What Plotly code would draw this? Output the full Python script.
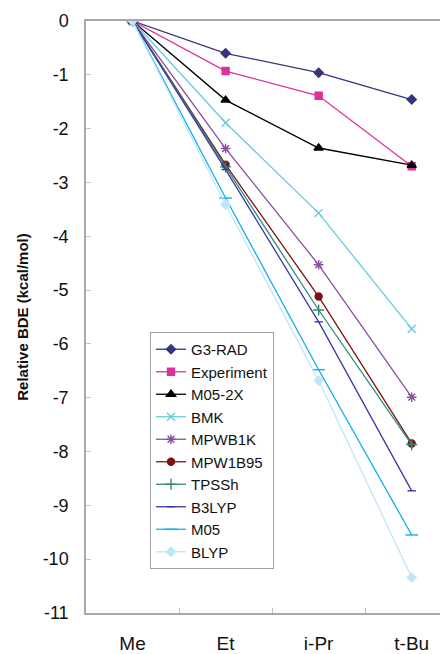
import plotly.graph_objects as go

categories = ["Me", "Et", "i-Pr", "t-Bu"]

series_names = ["G3-RAD", "Experiment", "M05-2X", "BMK", "MPWB1K",
                "MPW1B95", "TPSSh", "B3LYP", "M05", "BLYP"]

g3rad      = [0, -0.60, -0.96, -1.46]
experiment = [0, -0.93, -1.39, -2.70]
m05_2x     = [0, -1.47, -2.36, -2.68]
bmk        = [0, -1.89, -3.57, -5.72]
mpwb1k     = [0, -2.37, -4.53, -6.99]
mpw1b95    = [0, -2.67, -5.12, -7.85]
tpssh      = [0, -2.71, -5.37, -7.87]
b3lyp      = [0, -2.76, -5.59, -8.73]
m05        = [0, -3.29, -6.48, -9.55]
blyp       = [0, -3.41, -6.68, -10.34]

y_tick_values = [0, -1, -2, -3, -4, -5, -6, -7, -8, -9, -10, -11]
y_tick_labels = ["0", "-1", "-2", "-3", "-4", "-5", "-6", "-7", "-8", "-9", "-10", "-11"]

values = [g3rad, experiment, m05_2x, bmk, mpwb1k, mpw1b95, tpssh, b3lyp, m05, blyp]

colors = ["#35357F", "#DD3399", "#000000", "#66CCDD", "#8A4F9E",
          "#7A1414", "#2E8B78", "#3838A8", "#12ADEE", "#BFE6F8"]
symbols = ["diamond", "square", "triangle-up", "x-thin-open", "asterisk-open",
           "circle", "cross-thin-open", "line-ew-open", "line-ew-open", "diamond"]
sizes = [7, 7, 8, 8, 8, 7, 8, 6, 9, 7]

FONT = "Arial, Liberation Sans, sans-serif"

fig = go.Figure()
for name, vals, c, s, sz in zip(series_names, values, colors, symbols, sizes):
    fig.add_trace(go.Scatter(
        x=categories, y=vals, name=name, mode="lines+markers",
        line=dict(color=c, width=1.3),
        marker=dict(symbol=s, size=sz, color=c, line=dict(color=c, width=1.4)),
    ))

# page body has an 8px margin: figure occupies (8..448, 8..654)
OFF = 8
W, H = 448 - OFF, 654 - OFF
left, top, bottom = 86 - OFF, 21 - OFF, 41
plot_w = W - left
plot_h = H - top - bottom

def py(y_px):
    return (H - bottom - (y_px - OFF)) / plot_h

def px(x_px):
    return (x_px - OFF - left) / plot_w

fig.update_layout(
    width=W, height=H,
    margin=dict(l=left, r=0, t=top, b=bottom, autoexpand=False),
    paper_bgcolor="white", plot_bgcolor="white",
    font=dict(family=FONT, color="#111111"),
    showlegend=True,
    legend=dict(
        x=px(150), y=py(332),
        xanchor="left", yanchor="top",
        bordercolor="#A0A0A0", borderwidth=1, bgcolor="white",
        font=dict(family=FONT, size=15, color="#111111"),
        tracegroupgap=0,
    ),
    xaxis=dict(
        type="category", range=[-0.5, 3.39],
        showline=True, linecolor="#A8A8A8", linewidth=1.5, mirror=True,
        showgrid=False, zeroline=False,
        ticks="inside", tickson="boundaries", ticklen=5, tickcolor="#B8C8D8",
        tickfont=dict(family=FONT, size=19, color="#111111"),
        ticklabelstandoff=12,
    ),
    yaxis=dict(
        range=[-11, 0], tickmode="array",
        tickvals=y_tick_values, ticktext=y_tick_labels,
        showline=True, linecolor="#A8A8A8", linewidth=1.5,
        showgrid=False, zeroline=False,
        ticks="inside", ticklen=5, tickcolor="#B8C8D8",
        tickfont=dict(family=FONT, size=18, color="#111111"),
        ticklabelstandoff=12,
        title=dict(text="<b>Relative BDE (kcal/mol)</b>", standoff=10,
                   font=dict(family=FONT, size=15, color="#111111")),
    ),
)

fig.write_html("out.html")
